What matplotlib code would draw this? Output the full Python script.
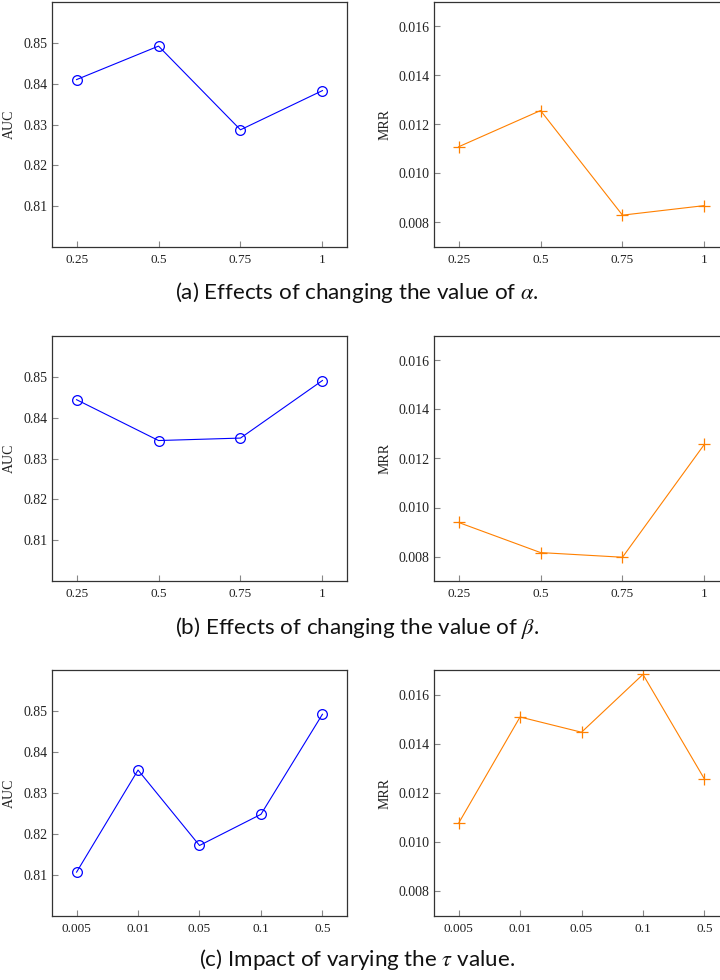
import matplotlib
matplotlib.use("Agg")
import matplotlib.pyplot as plt

# ---- data ----
ab_labels = ["0.25", "0.5", "0.75", "1"]
tau_labels = ["0.005", "0.01", "0.05", "0.1", "0.5"]

auc_alpha = [0.8410, 0.8492, 0.8287, 0.8383]
mrr_alpha = [0.01109, 0.01257, 0.00830, 0.00869]

auc_beta = [0.8444, 0.8344, 0.8350, 0.8491]
mrr_beta = [0.00939, 0.00816, 0.00797, 0.01258]

auc_tau = [0.8107, 0.8356, 0.8172, 0.8248, 0.8492]
mrr_tau = [0.01077, 0.01509, 0.01447, 0.01682, 0.01257]

auc_ticks = [0.81, 0.82, 0.83, 0.84, 0.85]
mrr_ticks = [0.008, 0.010, 0.012, 0.014, 0.016]

captions = [
    r"(a) Effects of changing the value of $\alpha$.",
    r"(b) Effects of changing the value of $\beta$.",
    r"(c) Impact of varying the $\tau$ value.",
]

plt.rcParams["mathtext.fontset"] = "stix"

W, H = 720, 980
fig = plt.figure(figsize=(7.2, 9.8), dpi=100)

serif = ["Liberation Serif", "DejaVu Serif"]
BLUE = "#0000ff"
ORANGE = "#ff8000"

rows = [
    (ab_labels, auc_alpha, mrr_alpha, 2, 247, 299),
    (ab_labels, auc_beta, mrr_beta, 336, 581, 634),
    (tau_labels, auc_tau, mrr_tau, 670, 916, 966),
]


def style(ax, labels, yt, fmt):
    n = len(labels)
    ax.set_xlim(-0.1 * (n - 1), (n - 1) * 1.1)
    ax.set_xticks(range(n))
    ax.set_xticklabels(labels, fontfamily=serif, fontsize=9.5, color="#222222")
    ax.set_yticks(yt)
    ax.set_yticklabels([fmt.format(v) for v in yt], fontfamily=serif, fontsize=10, color="#222222")
    ax.tick_params(direction="in", length=4.3, width=0.8, color="#888888", pad=3.5)
    ax.tick_params(axis="x", pad=5)
    for s in ax.spines.values():
        s.set_linewidth(0.9)
        s.set_color("#333333")


for i, (labels, auc, mrr, top, bot, cap_y) in enumerate(rows):
    b = 1 - bot / H
    h = (bot - top) / H
    x = list(range(len(labels)))
    # left
    axl = fig.add_axes([52 / W, b, 295 / W, h])
    axl.plot(x, auc, color=BLUE, lw=0.8, marker="o", mfc="none", mec=BLUE, ms=7, mew=0.9)
    axl.set_ylim(0.80, 0.86)
    style(axl, labels, auc_ticks, "{:.2f}")
    axl.set_ylabel("AUC", fontfamily=serif, fontsize=10, color="#222222")
    axl.yaxis.set_label_coords((16 - 52) / 295, 0.5)
    # right
    axr = fig.add_axes([434 / W, b, 295 / W, h])
    axr.plot(x, mrr, color=ORANGE, lw=0.8, marker="+", ms=8.5, mew=0.9)
    axr.set_ylim(0.007, 0.017)
    style(axr, labels, mrr_ticks, "{:.3f}")
    axr.set_ylabel("MRR", fontfamily=serif, fontsize=10, color="#222222")
    axr.yaxis.set_label_coords((392 - 434) / 295, 0.5)
    # caption
    fig.text(357 / W, 1 - cap_y / H, captions[i],
             ha="center", va="baseline", fontsize=16.1, fontfamily=["Lato", "DejaVu Sans"],
             color="#111111")

fig.savefig("out.png", dpi=100)
